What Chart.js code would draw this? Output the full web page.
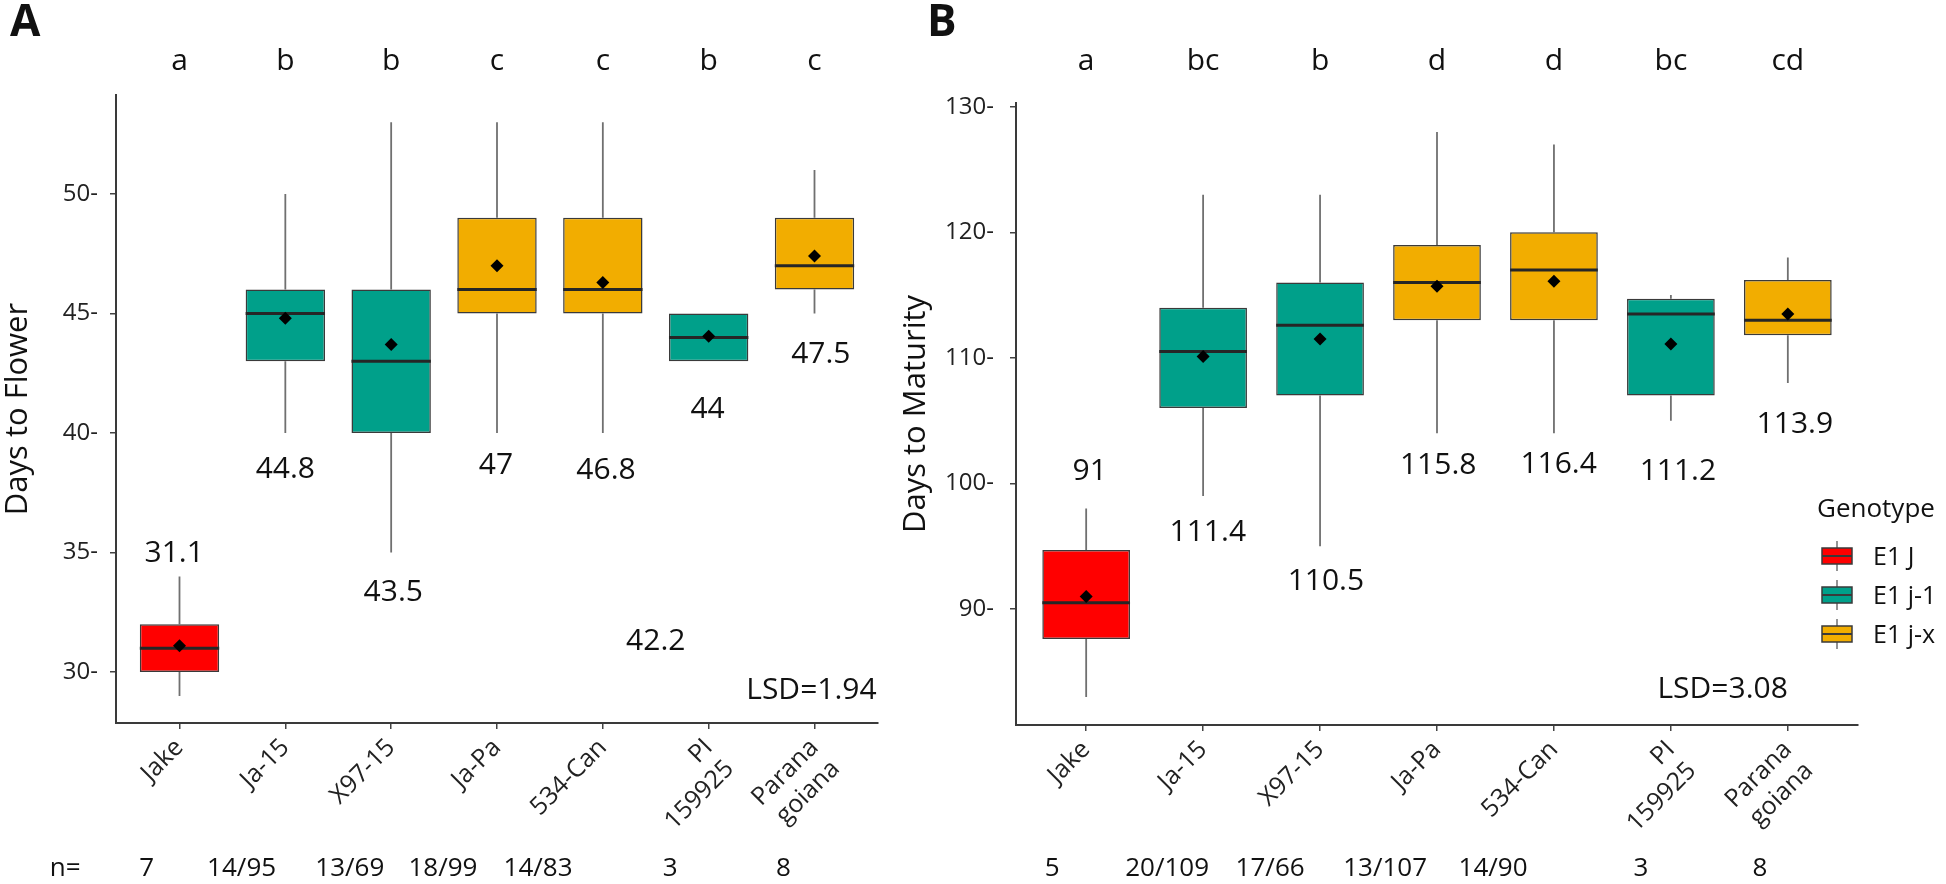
<!DOCTYPE html>
<html>
<head>
<meta charset="utf-8">
<script src="https://cdn.jsdelivr.net/npm/chart.js@4.4.1/dist/chart.umd.min.js"></script>
<style>
  html, body { margin: 0; padding: 0; background: #fff; }
  #wrap { position: relative; width: 1946px; height: 884px; }
  #chartA { position: absolute; left: 0; top: 0; }
  #chartB { position: absolute; left: 890px; top: 0; }
</style>
</head>
<body>
<div id="wrap">
  <canvas id="chartA" width="890" height="884"></canvas>
  <canvas id="chartB" width="1056" height="884"></canvas>
</div>
<script>
// cultivars and genotype groups
const cultivars = ['Jake', 'Ja-15', 'X97-15', 'Ja-Pa', '534-Can', ['PI', '159925'], ['Parana', 'goiana']];
const genotype = [0, 1, 1, 2, 2, 1, 2];
const genotypeNames = ['E1 J', 'E1 j-1', 'E1 j-x'];
const genotypeColors = ['#FF0000', '#00A08A', '#F2AD00'];

// A: days to flower
const flowerMin = [29, 40, 35, 40, 40, 43, 45];
const flowerQ1 = [30, 43, 40, 45, 45, 43, 46];
const flowerMedian = [31, 45, 43, 46, 46, 44, 47];
const flowerQ3 = [32, 46, 46, 49, 49, 45, 49];
const flowerMax = [34, 50, 53, 53, 53, 45, 51];
const flowerMean = [31.1, 44.8, 43.7, 47.0, 46.3, 44.05, 47.4];
const flowerLetters = ['a', 'b', 'b', 'c', 'c', 'b', 'c'];
const flowerLabels = ['31.1', '44.8', '43.5', '47', '46.8', '44', '47.5', '42.2'];
const flowerN = ['7', '14/95', '13/69', '18/99', '14/83', '3', '8'];
const flowerTicks = [30, 35, 40, 45, 50];

// B: days to maturity
const maturityMin = [83, 99, 95, 104, 104, 105, 108];
const maturityQ1 = [87.6, 106, 107, 113, 113, 107, 111.8];
const maturityMedian = [90.5, 110.5, 112.6, 116, 117, 113.5, 113];
const maturityQ3 = [94.7, 114, 116, 119, 120, 114.7, 116.2];
const maturityMax = [98, 123, 123, 128, 127, 115, 118];
const maturityMean = [91, 110.1, 111.5, 115.7, 116.1, 111.1, 113.5];
const maturityLetters = ['a', 'bc', 'b', 'd', 'd', 'bc', 'cd'];
const maturityLabels = ['91', '111.4', '110.5', '115.8', '116.4', '111.2', '113.9'];
const maturityN = ['5', '20/109', '17/66', '13/107', '14/90', '3', '8'];
const maturityTicks = [90, 100, 110, 120, 130];

const FONT = '"Open Sans", sans-serif';
Chart.defaults.font.family = FONT;
Chart.defaults.color = '#222';

function drawText(ctx, str, x, baseline, size, align, weight) {
    ctx.font = (weight || 'normal') + ' ' + size + 'px ' + FONT;
    ctx.textAlign = align || 'center';
    ctx.textBaseline = 'alphabetic';
    ctx.fillText(str, x, baseline);
}

function drawLegend(ctx, lg) {
    drawText(ctx, 'Genotype', lg.x, lg.titleY, 26, 'left');
    genotypeNames.forEach((name, i) => {
        const cy = lg.rowY[i];
        const cx = lg.x + 20;
        ctx.strokeStyle = '#707070';
        ctx.lineWidth = 1.5;
        ctx.beginPath();
        ctx.moveTo(cx, cy - 15); ctx.lineTo(cx, cy + 15);
        ctx.stroke();
        ctx.fillStyle = genotypeColors[i];
        ctx.fillRect(cx - 15, cy - 8, 30, 16);
        ctx.strokeStyle = '#3a3a3a';
        ctx.strokeRect(cx - 15, cy - 8, 30, 16);
        ctx.lineWidth = 2;
        ctx.beginPath();
        ctx.moveTo(cx - 15, cy); ctx.lineTo(cx + 15, cy);
        ctx.stroke();
        ctx.fillStyle = '#111';
        drawText(ctx, name, lg.x + 56, cy + 9, 25, 'left');
    });
}

function makeChart(id, p) {
    const boxPlugin = {
        id: 'boxes',
        beforeDatasetsDraw(chart) {
            const {ctx, scales: {x, y}} = chart;
            ctx.save();
            ctx.strokeStyle = '#707070';
            ctx.lineWidth = 1.8;
            ctx.beginPath();
            p.max.forEach((v, i) => {
                const px = x.getPixelForValue(i);
                ctx.moveTo(px, y.getPixelForValue(v));
                ctx.lineTo(px, y.getPixelForValue(p.q3[i]));
                ctx.moveTo(px, y.getPixelForValue(p.q1[i]));
                ctx.lineTo(px, y.getPixelForValue(p.min[i]));
            });
            ctx.stroke();
            ctx.restore();
        },
        afterDatasetDraw(chart, args) {
            if (args.meta.type !== 'bar') return;
            const {ctx, scales: {y}} = chart;
            ctx.save();
            ctx.strokeStyle = '#262626';
            ctx.lineWidth = 3;
            ctx.beginPath();
            args.meta.data.forEach((bar, i) => {
                const py = y.getPixelForValue(p.median[i]);
                ctx.moveTo(bar.x - bar.width / 2, py);
                ctx.lineTo(bar.x + bar.width / 2, py);
            });
            ctx.stroke();
            ctx.restore();
        },
        afterDraw(chart) {
            const {ctx, scales: {x, y}} = chart;
            ctx.save();
            ctx.fillStyle = '#111';
            p.letters.forEach((t, i) => drawText(ctx, t, x.getPixelForValue(i), 70, 30));
            p.labels.forEach((t, i) => {
                const a = p.labelAt[i];
                drawText(ctx, t, x.getPixelForValue(a[0]), y.getPixelForValue(a[1]) + 10.7, 30);
            });
            drawText(ctx, p.lsd, x.getPixelForValue(p.lsdAt[0]), y.getPixelForValue(p.lsdAt[1]) + 10.7, 30, 'right');
            p.n.forEach((t, i) => drawText(ctx, t, x.getPixelForValue(p.nAt[i]), 876, 26));
            if (p.nLabelAt != null) drawText(ctx, 'n=', x.getPixelForValue(p.nLabelAt), 876, 26);
            drawText(ctx, p.panel, p.panelX, 36, 44, 'left', 'bold');
            if (p.legend) drawLegend(ctx, p.legend);
            ctx.restore();
        }
    };

    return new Chart(document.getElementById(id), {
        type: 'bar',
        data: {
            datasets: [{
                type: 'scatter',
                data: p.mean.map((v, i) => ({x: i, y: v})),
                pointStyle: 'rectRot',
                pointRadius: 6.5,
                backgroundColor: '#000',
                borderColor: '#000',
                borderWidth: 0
            }, {
                type: 'bar',
                data: p.q1.map((v, i) => ({x: i, y: [v, p.q3[i]]})),
                backgroundColor: genotype.map(g => genotypeColors[g]),
                borderColor: '#3a3a3a',
                borderWidth: 1.5,
                borderSkipped: false,
                barPercentage: 0.75,
                categoryPercentage: 1
            }]
        },
        options: {
            responsive: false,
            animation: false,
            events: [],
            layout: {padding: p.pad},
            plugins: {legend: {display: false}, tooltip: {enabled: false}},
            scales: {
                x: {
                    type: 'linear',
                    min: -0.6,
                    max: 6.6,
                    offset: false,
                    afterBuildTicks: s => { s.ticks = cultivars.map((c, i) => ({value: i})); },
                    afterFit: s => { s.height = p.xHeight; },
                    ticks: {
                        autoSkip: false, minRotation: 45, maxRotation: 45, padding: 4,
                        color: '#222', font: {size: 25},
                        callback: v => cultivars[v]
                    },
                    grid: {offset: false, drawOnChartArea: false, tickLength: 6, color: '#444', lineWidth: 1.5},
                    border: {color: '#3a3a3a', width: 2}
                },
                y: {
                    min: p.yMin,
                    max: p.yMax,
                    afterBuildTicks: s => { s.ticks = p.ticks.map(v => ({value: v})); },
                    afterFit: s => { s.width = p.yWidth; },
                    ticks: {padding: p.tickPad, color: '#222', font: {size: 24}, callback: v => v + '-'},
                    grid: {drawOnChartArea: false, tickLength: 6, color: '#444', lineWidth: 1.5},
                    border: {color: '#3a3a3a', width: 2},
                    title: {display: true, text: p.title, color: '#111', font: {size: 31}, padding: {top: 0, bottom: 0}}
                }
            }
        },
        plugins: [boxPlugin]
    });
}

makeChart('chartA', {
    min: flowerMin, q1: flowerQ1, median: flowerMedian, q3: flowerQ3, max: flowerMax, mean: flowerMean,
    letters: flowerLetters, labels: flowerLabels, n: flowerN, ticks: flowerTicks,
    labelAt: [[-0.05, 35.06], [1.0, 38.58], [2.02, 33.43], [2.99, 38.75], [4.03, 38.54], [4.99, 41.09], [6.06, 43.39], [4.5, 31.38]],
    nAt: [-0.31, 0.587, 1.609, 2.489, 3.388, 4.637, 5.706], nLabelAt: -1.08,
    lsd: 'LSD=1.94', lsdAt: [6.587, 29.31],
    yMin: 27.87, yMax: 54.14, title: 'Days to Flower',
    pad: {left: 0, top: 95, right: 12, bottom: 0}, yWidth: 116, xHeight: 161, tickPad: 12,
    panel: 'A', panelX: 10
});

makeChart('chartB', {
    min: maturityMin, q1: maturityQ1, median: maturityMedian, q3: maturityQ3, max: maturityMax, mean: maturityMean,
    letters: maturityLetters, labels: maturityLabels, n: maturityN, ticks: maturityTicks,
    labelAt: [[0.03, 101.1], [1.04, 96.3], [2.05, 92.4], [3.01, 101.6], [4.04, 101.7], [5.06, 101.1], [6.06, 104.9]],
    nAt: [-0.29, 0.692, 1.573, 2.556, 3.479, 4.744, 5.761], nLabelAt: null,
    lsd: 'LSD=3.08', lsdAt: [6.0, 83.8],
    yMin: 80.76, yMax: 130.3, title: 'Days to Maturity',
    pad: {left: 8, top: 103, right: 88, bottom: 0}, yWidth: 118, xHeight: 159, tickPad: 16,
    panel: 'B', panelX: 37,
    legend: {x: 927, titleY: 517, rowY: [556, 595, 634]}
});
</script>
</body>
</html>
